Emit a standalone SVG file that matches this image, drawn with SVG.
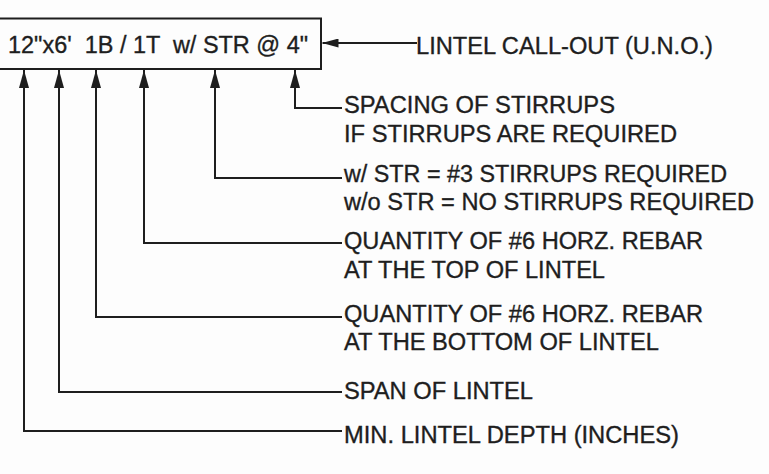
<svg xmlns="http://www.w3.org/2000/svg" width="769" height="474" viewBox="0 0 769 474">
<style>
text{font-family:"Liberation Sans",Arial,sans-serif;fill:#1e1e1e;stroke:#1e1e1e;stroke-width:0.35;white-space:pre}
.lbl{font-size:23.5px}
.conn{fill:none;stroke:#1e1e1e;stroke-width:2}
</style>
<defs>
<marker id="ah" viewBox="0 0 18 10" refX="18" refY="5" markerWidth="18" markerHeight="10" markerUnits="userSpaceOnUse" orient="auto">
<path d="M0,0 L18,5 L0,10 Z" fill="#1e1e1e"/>
</marker>
<marker id="ahs" viewBox="0 0 16 9" refX="16" refY="4.5" markerWidth="16" markerHeight="9" markerUnits="userSpaceOnUse" orient="auto">
<path d="M0,0 L16,4.5 L0,9 Z" fill="#1e1e1e"/>
</marker>
</defs>
<rect width="769" height="474" fill="#fdfdfd"/>
<g id="callout">
<rect x="-2" y="18.5" width="323" height="50.5" fill="none" stroke="#1e1e1e" stroke-width="2"/>
<text x="8" y="53" font-size="23.5" textLength="300" lengthAdjust="spacingAndGlyphs">12"x6'  1B / 1T  w/ STR @ 4"</text>
</g>
<g id="connectors">
<path class="conn" d="M417,43 H322.5" marker-end="url(#ahs)"/>
<path class="conn" d="M342,108 H295 V70" marker-end="url(#ah)"/>
<path class="conn" d="M342,178 H215 V70" marker-end="url(#ah)"/>
<path class="conn" d="M342,243 H144 V70" marker-end="url(#ah)"/>
<path class="conn" d="M342,317 H96 V70" marker-end="url(#ah)"/>
<path class="conn" d="M342,392 H59 V70" marker-end="url(#ah)"/>
<path class="conn" d="M342,431 H24 V70" marker-end="url(#ah)"/>
</g>
<g id="label-callout"><text class="lbl" x="416" y="54" textLength="297" lengthAdjust="spacingAndGlyphs">LINTEL CALL-OUT (U.N.O.)</text></g>
<g id="label-spacing">
<text class="lbl" x="344" y="113" textLength="271" lengthAdjust="spacingAndGlyphs">SPACING OF STIRRUPS</text>
<text class="lbl" x="344" y="142" textLength="333" lengthAdjust="spacingAndGlyphs">IF STIRRUPS ARE REQUIRED</text>
</g>
<g id="label-stirrups">
<text class="lbl" x="344" y="182" textLength="383" lengthAdjust="spacingAndGlyphs">w/ STR = #3 STIRRUPS REQUIRED</text>
<text class="lbl" x="344" y="210" textLength="410" lengthAdjust="spacingAndGlyphs">w/o STR = NO STIRRUPS REQUIRED</text>
</g>
<g id="label-top">
<text class="lbl" x="344" y="249" textLength="359" lengthAdjust="spacingAndGlyphs">QUANTITY OF #6 HORZ. REBAR</text>
<text class="lbl" x="344" y="278" textLength="261" lengthAdjust="spacingAndGlyphs">AT THE TOP OF LINTEL</text>
</g>
<g id="label-bottom">
<text class="lbl" x="344" y="322" textLength="359" lengthAdjust="spacingAndGlyphs">QUANTITY OF #6 HORZ. REBAR</text>
<text class="lbl" x="344" y="350" textLength="315" lengthAdjust="spacingAndGlyphs">AT THE BOTTOM OF LINTEL</text>
</g>
<g id="label-span"><text class="lbl" x="344" y="399" textLength="189" lengthAdjust="spacingAndGlyphs">SPAN OF LINTEL</text></g>
<g id="label-depth"><text class="lbl" x="344" y="443" textLength="335" lengthAdjust="spacingAndGlyphs">MIN. LINTEL DEPTH (INCHES)</text></g>
</svg>
